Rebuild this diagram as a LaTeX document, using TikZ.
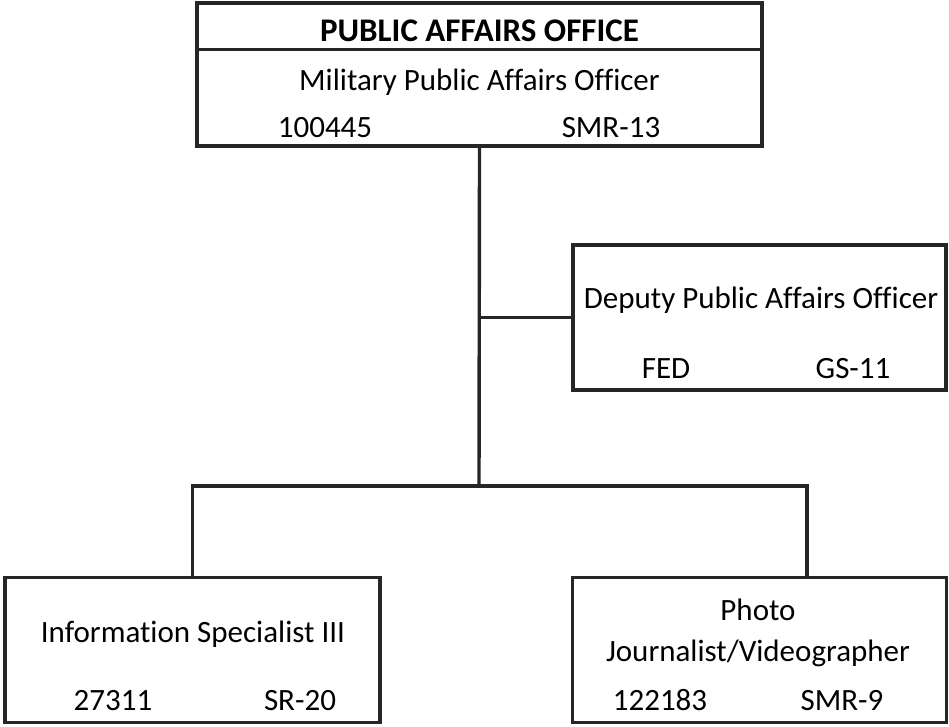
\documentclass[tikz,border=0pt]{standalone}
\usepackage{fontspec}
\setmainfont{Carlito}[Ligatures=NoCommon]
\usepackage{tikz}
\usetikzlibrary{positioning, calc}

\tikzset{
  orgbox/.style={draw=black!85, line width=3.4pt, inner sep=0pt},
  orgline/.style={draw=black!85, line width=3.4pt},
  orgtext/.style={inner sep=0pt, anchor=base, font=\fontsize{31}{41}\selectfont},
}

\begin{document}
\begin{tikzpicture}[x=1pt, y=-1pt]
  \useasboundingbox (0,0) rectangle (949,726);

  % boxes
  \node[orgbox, minimum width=565pt, minimum height=143pt] (pao) at (479.5,74.5) {};
  \node[orgbox, minimum width=373pt, minimum height=145pt] (dpao) at (759.5,317.5) {};
  \node[orgbox, minimum width=375pt, minimum height=145pt] (isp) at (192.5,650) {};
  \node[orgbox, minimum width=374pt, minimum height=145pt] (pjv) at (759.5,650) {};

  % title row of the office box
  \draw[orgline] ($(pao.north west)+(0,48)$) -- ($(pao.north east)+(0,48)$);
  \node[orgtext, font=\fontsize{33}{40}\selectfont\bfseries] (paotitle) at (479.5,41) {PUBLIC AFFAIRS OFFICE};
  \node[orgtext] (paoname) at (479.5,90) {Military Public Affairs Officer};
  \node[orgtext] (paonum) at (325,137) {100445};
  \node[orgtext] (paogrd) at (611,137) {SMR-13};

  \node[orgtext] (dpaoname) at (761,308) {Deputy Public Affairs Officer};
  \node[orgtext] (dpaonum) at (666,378) {FED};
  \node[orgtext] (dpaogrd) at (853,378) {GS-11};

  \node[orgtext] (ispname) at (193,642) {Information Specialist III};
  \node[orgtext] (ispnum) at (113,710) {27311};
  \node[orgtext] (ispgrd) at (300,710) {SR-20};

  \node[orgtext, align=center] (pjvname) at (758,661) {Photo\\Journalist/Videographer};
  \node[orgtext] (pjvnum) at (660,710) {122183};
  \node[orgtext] (pjvgrd) at (842,710) {SMR-9};

  % connectors
  \coordinate (split) at (479,486);
  \coordinate (pjvdrop) at (807,486);
  \draw[orgline] (pao.south) -- (split);
  \draw[orgline] (pao.south |- dpao.west) -- (dpao.west);
  \draw[orgline] (isp.north) |- (split) -- (pjvdrop) -- (pjvdrop |- pjv.north);
\end{tikzpicture}
\end{document}
